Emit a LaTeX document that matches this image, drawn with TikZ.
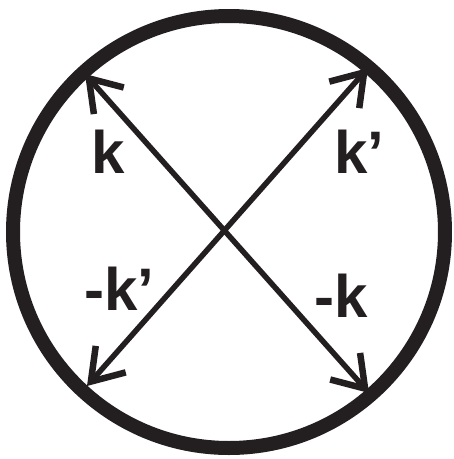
\documentclass[tikz,border=0pt]{standalone}
\usepackage{fontspec}
\setmainfont{Liberation Sans}
\usetikzlibrary{arrows.meta}
\tikzset{
  ring/.style={draw=ink, line width=14pt, circle, minimum size=432pt, inner sep=0pt},
  vec/.style={draw=ink, line width=5.5pt, {Straight Barb[length=30pt,width=40pt,sharp,line width=6.5pt]}-{Straight Barb[length=30pt,width=40pt,sharp,line width=6.5pt]}},
  lbl/.style={anchor=base west, inner sep=0pt, font=\fontsize{60}{60}\selectfont\bfseries, text=ink}
}
\definecolor{ink}{HTML}{231F20}
\begin{document}
\begin{tikzpicture}[x=1pt,y=-1pt]
\useasboundingbox (0,0) rectangle (454,459);
\node[ring] (circ) at (229,232) {};
\coordinate (tl) at (85,74);
\coordinate (br) at (369,393);
\coordinate (tr) at (368,68);
\coordinate (bl) at (87,386);
\draw[vec] (tl) -- (br);
\draw[vec] (bl) -- (tr);
\node[lbl] (k) at (91,173) {k};
\node[lbl] (kp) at (334,173) {k’};
\node[lbl] (mkp) at (84,310) {-k’};
\node[lbl] (mk) at (314,317) {-k};
\end{tikzpicture}
\end{document}
